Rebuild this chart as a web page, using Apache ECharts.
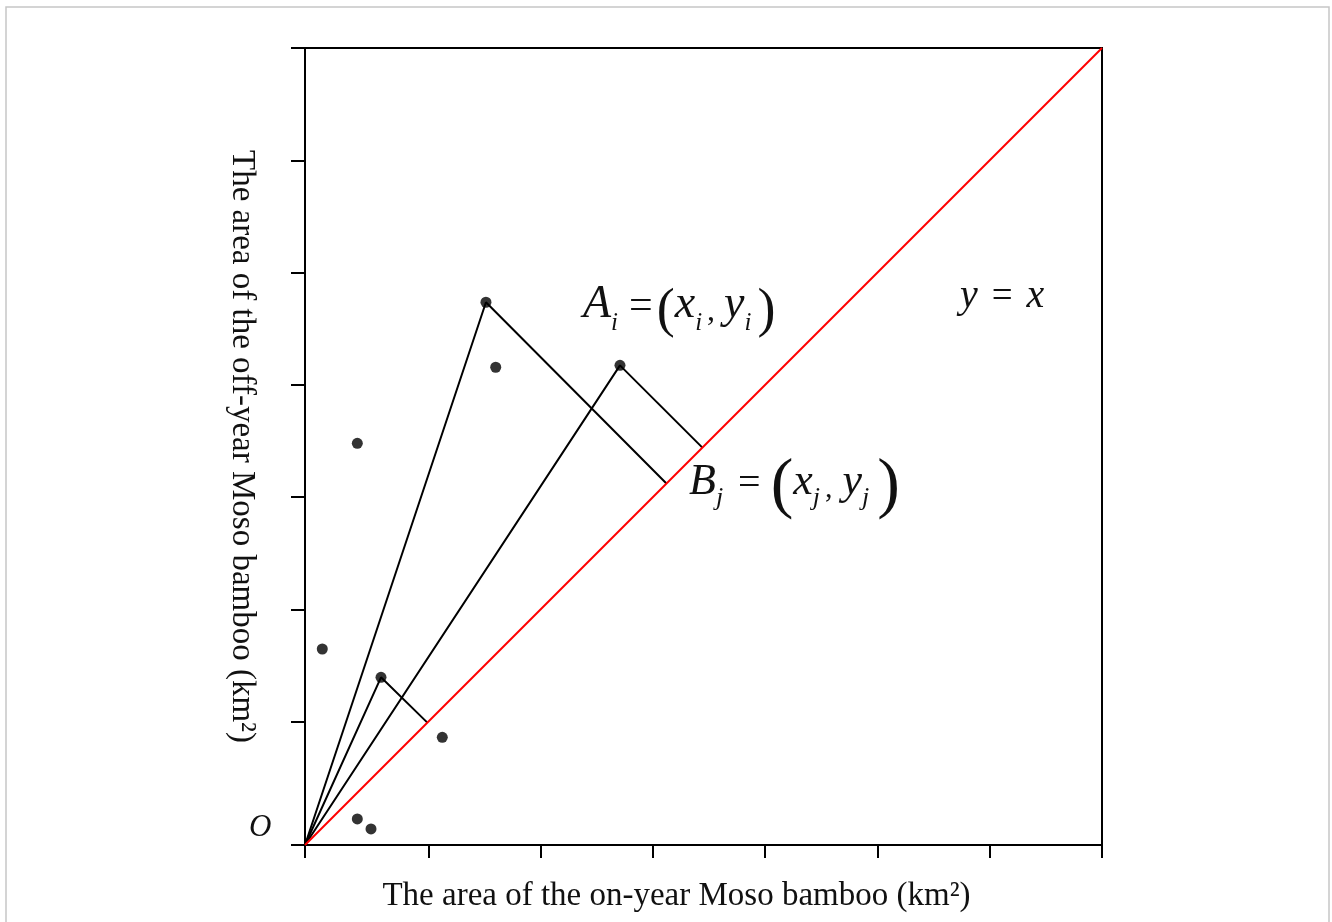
<!DOCTYPE html>
<html>
<head>
<meta charset="utf-8">
<title>On-year vs off-year Moso bamboo area</title>
<script src="https://cdn.jsdelivr.net/npm/echarts@6/dist/echarts.min.js"></script>
<style>
  html, body { margin: 0; padding: 0; background: #fff; }
  #main { width: 1332px; height: 922px; }
</style>
</head>
<body>
<div id="main"></div>
<script>
// axis extent and tick positions (first gap is a bit wider)
let axisMax = 7.1;
let xTicks = [0, 1.1, 2.1, 3.1, 4.1, 5.1, 6.1, 7.1];
let yTicks = [0, 1.1, 2.1, 3.1, 4.1, 5.1, 6.1, 7.1];

// scatter points (on-year area, off-year area)
let pointsX = [1.612, 1.699, 2.806, 0.466, 0.154, 0.677, 1.223, 0.466, 0.588];
let pointsY = [4.835, 4.256, 4.273, 3.578, 1.746, 1.494, 0.959, 0.232, 0.143];

// the three points joined to O and dropped onto y = x (index into points)
let apexIdx = [0, 5, 2];
// where each perpendicular meets the y = x line
let footVals = [3.22, 1.09, 3.54];

let font = 'Liberation Serif';

let chart = echarts.init(document.getElementById('main'), null, { renderer: 'canvas' });

let scatterData = pointsX.map(function (x, i) { return [x, pointsY[i]]; });

let triSeries = apexIdx.map(function (k, i) {
  return {
    type: 'line',
    data: [[0, 0], [pointsX[k], pointsY[k]], [footVals[i], footVals[i]]],
    symbol: 'none',
    silent: true,
    lineStyle: { color: '#000', width: 2 },
    z: 2
  };
});

// rich styles for the little formulas
// (token height decides how far down a bottom-aligned piece sits)
function formulaRich(o) {
  return {
    v: { fontFamily: font, fontStyle: 'italic', fontSize: o.size, lineHeight: o.size, verticalAlign: 'bottom' },
    s: { fontFamily: font, fontStyle: 'italic', fontSize: o.sub, height: o.subH, lineHeight: o.size, verticalAlign: 'bottom', padding: [0, 2, 0, 0] },
    eq: { fontFamily: font, fontSize: o.size - 4, lineHeight: o.size, verticalAlign: 'bottom', padding: o.eqPad },
    pl: { fontFamily: font, fontSize: o.par, height: o.parH, lineHeight: o.size, verticalAlign: 'bottom', padding: [0, o.plPad, 0, 0] },
    pr: { fontFamily: font, fontSize: o.par, height: o.parH, lineHeight: o.size, verticalAlign: 'bottom', padding: [0, 0, 0, o.prPad] },
    c: { fontFamily: font, fontSize: o.size - 14, lineHeight: o.size, verticalAlign: 'bottom', padding: o.cPad }
  };
}

let option = {
  backgroundColor: '#fff',
  animation: false,
  grid: {
    left: 305,
    top: 48,
    right: 230,
    bottom: 77,
    show: true,
    borderColor: '#000',
    borderWidth: 2
  },
  xAxis: {
    type: 'value',
    min: 0,
    max: axisMax,
    name: 'The area of the on-year Moso bamboo (km\u00b2)',
    nameLocation: 'middle',
    nameGap: 35,
    nameTextStyle: { fontFamily: font, fontSize: 33, color: '#111', padding: [0, 54, 0, 0] },
    axisLine: { show: true, lineStyle: { color: '#000', width: 2 } },
    axisTick: { show: true, length: 13, customValues: xTicks, lineStyle: { color: '#000', width: 2 } },
    axisLabel: { show: false },
    splitLine: { show: false }
  },
  yAxis: {
    type: 'value',
    min: 0,
    max: axisMax,
    name: 'The area of the off-year Moso bamboo (km\u00b2)',
    nameLocation: 'middle',
    nameRotate: -90,
    nameGap: 47,
    nameTextStyle: { fontFamily: font, fontSize: 33, color: '#111' },
    axisLine: { show: true, lineStyle: { color: '#000', width: 2 } },
    axisTick: { show: true, length: 14, customValues: yTicks, lineStyle: { color: '#000', width: 2 } },
    axisLabel: { show: false },
    splitLine: { show: false }
  },
  graphic: [
    {
      type: 'rect',
      shape: { x: 6, y: 7, width: 1323, height: 1000 },
      style: { fill: 'none', stroke: '#c6c6c6', lineWidth: 1.5 },
      silent: true
    },
    {
      type: 'text',
      x: 249, y: 812,
      style: { text: 'O', font: 'italic 31px "Liberation Serif"', fill: '#111' }
    },
    {
      type: 'text',
      x: 583, y: 282,
      style: {
        text: '{v|A}{s|i}{eq|=}{pl|(}{v|x}{s|i}{c|,}{v|y}{s|i}{pr|)}',
        fill: '#111',
        rich: formulaRich({
          size: 46, sub: 25, subH: 9, par: 54, parH: 32,
          eqPad: [0, 4, 0, 9], plPad: 0, prPad: 4, cPad: [0, 9, 0, 3]
        })
      }
    },
    {
      type: 'text',
      x: 689, y: 460,
      style: {
        text: '{v|B}{s|j}{eq|=}{pl|(}{v|x}{s|j}{c|,}{v|y}{s|j}{pr|)}',
        fill: '#111',
        rich: formulaRich({
          size: 44, sub: 26, subH: 11, par: 68, parH: 34,
          eqPad: [0, 10, 0, 13], plPad: 0, prPad: 6, cPad: [0, 10, 0, 3]
        })
      }
    },
    {
      type: 'text',
      x: 960, y: 276,
      style: {
        text: '{v|y}{eq|=}{v|x}',
        fill: '#111',
        rich: {
          v: { fontFamily: font, fontStyle: 'italic', fontSize: 40, lineHeight: 40, verticalAlign: 'bottom' },
          eq: { fontFamily: font, fontSize: 37, lineHeight: 40, verticalAlign: 'bottom', padding: [0, 14, 0, 14] }
        }
      }
    }
  ],
  series: [
    {
      type: 'line',
      data: [[0, 0], [axisMax, axisMax]],
      symbol: 'none',
      silent: true,
      lineStyle: { color: '#ff0000', width: 2 },
      z: 3
    }
  ].concat(triSeries).concat([
    {
      type: 'scatter',
      data: scatterData,
      symbol: 'circle',
      symbolSize: 11,
      itemStyle: { color: '#000' },
      z: 5
    }
  ])
};

chart.setOption(option);
</script>
</body>
</html>
